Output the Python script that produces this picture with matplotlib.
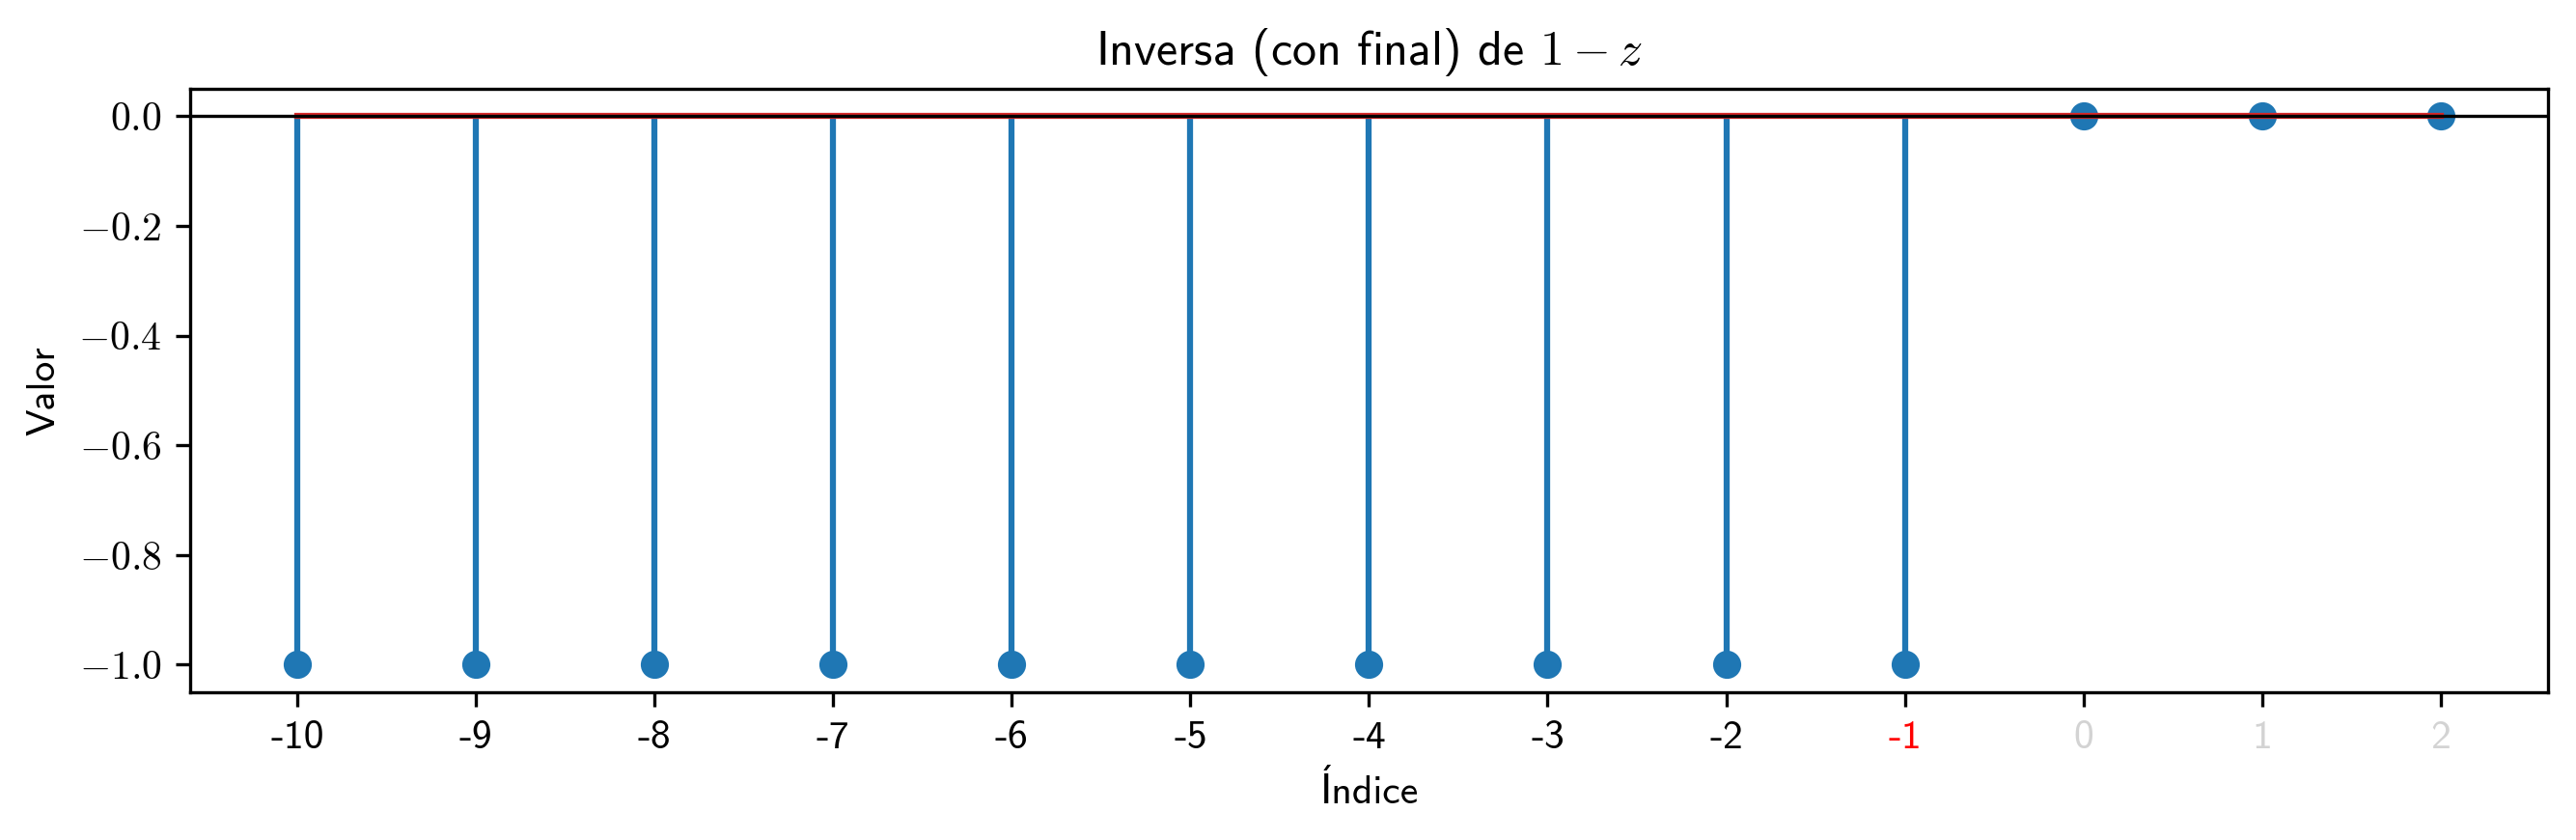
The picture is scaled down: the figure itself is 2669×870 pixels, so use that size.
import matplotlib
matplotlib.use("Agg")
import matplotlib.pyplot as plt
from matplotlib.ticker import FuncFormatter

# indices and values of the sequence
indices = [-10, -9, -8, -7, -6, -5, -4, -3, -2, -1, 0, 1, 2]
values = [-1, -1, -1, -1, -1, -1, -1, -1, -1, -1, 0, 0, 0]
tick_labels = ['-10', '-9', '-8', '-7', '-6', '-5', '-4', '-3', '-2', '-1', '0', '1', '2']
red_ticks = [-1]          # highlighted index
gray_ticks = [0, 1, 2]    # faded indices

plt.rcParams['font.family'] = ['cmss10', 'DejaVu Sans']
plt.rcParams['mathtext.fontset'] = 'cm'
plt.rcParams['axes.unicode_minus'] = False

# a hair over the target so int() truncation lands on 2669x870
fig = plt.figure(figsize=(2669.2 / 300, 870.2 / 300), dpi=300)
ax = fig.add_axes([0.0738, 0.176, 0.9152, 0.718])

ax.stem(indices, values)
ax.axhline(0, color='black', linewidth=0.8)

ax.set_xticks(indices)
ax.set_xticklabels(tick_labels)
for lab, i in zip(ax.get_xticklabels(), indices):
    if i in red_ticks:
        lab.set_color('red')
    elif i in gray_ticks:
        lab.set_color('lightgray')

ax.yaxis.set_major_formatter(FuncFormatter(lambda v, p: '$%.1f$' % v))

ax.set_title(r'Inversa (con final) de $1 - z$')
ax.set_xlabel('Índice')
ax.set_ylabel('Valor')

fig.savefig('out.png', dpi=300)
